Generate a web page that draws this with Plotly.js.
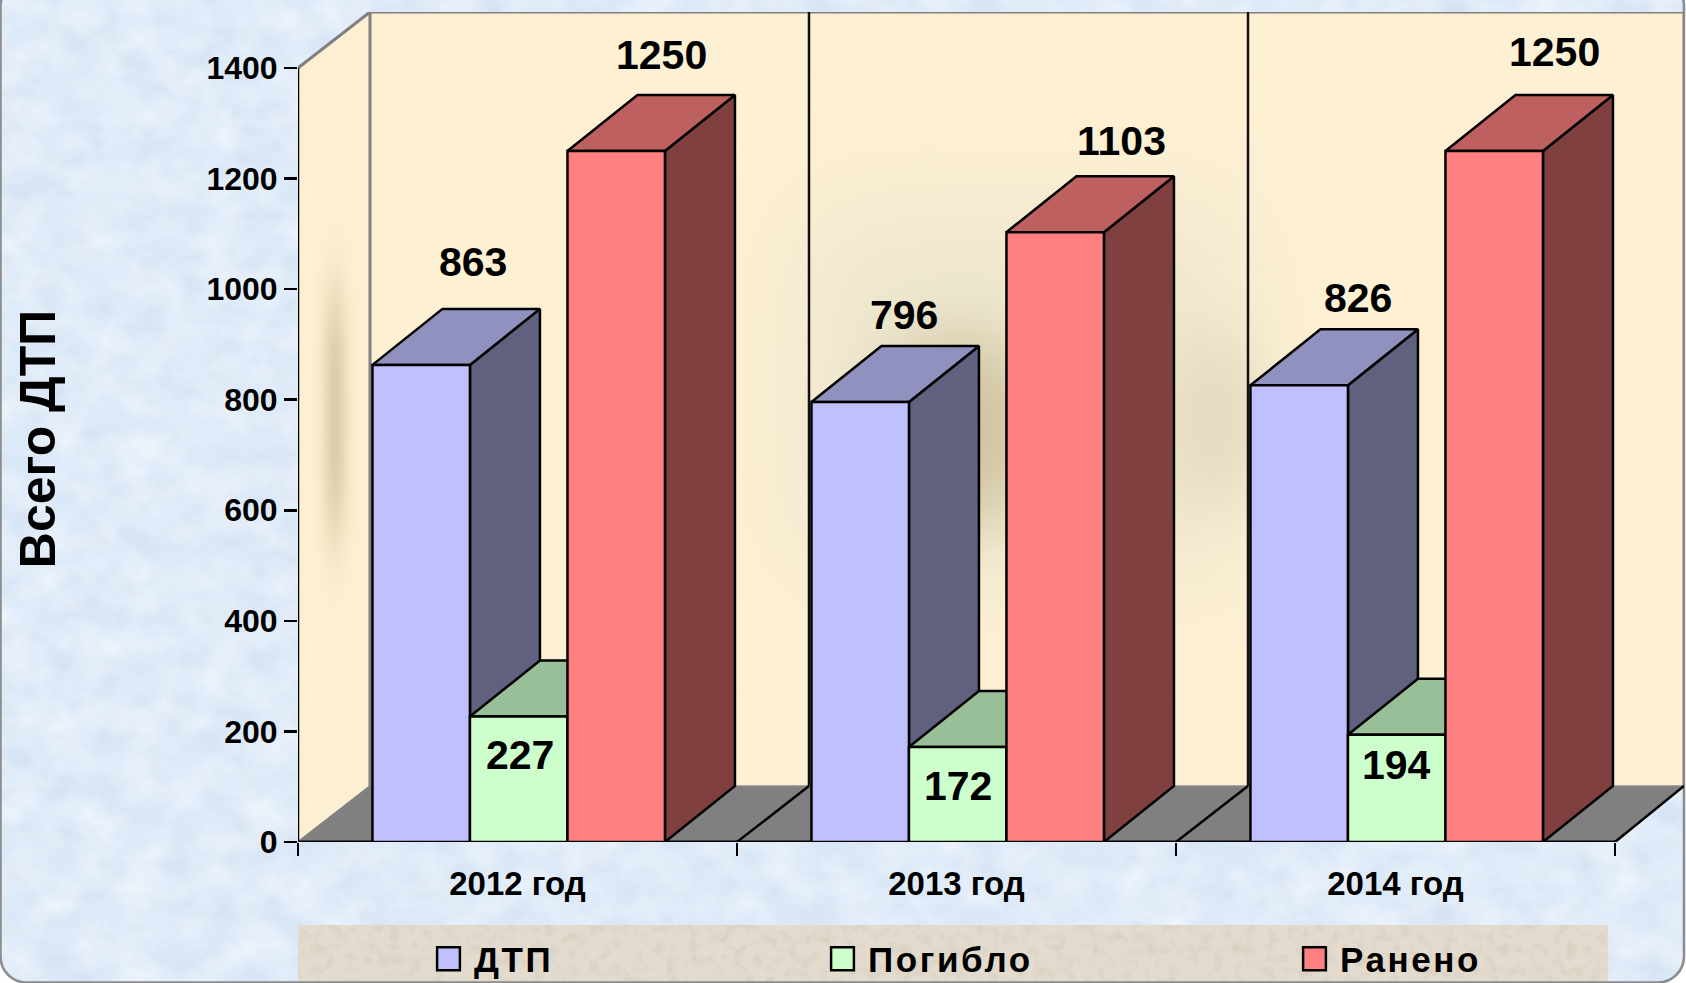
<!DOCTYPE html>
<html><head><meta charset="utf-8">
<script src="https://cdn.plot.ly/plotly-3.0.1.min.js"></script>
<style>
html,body{margin:0;padding:0;width:1686px;height:983px;overflow:hidden;background:#fff}
#bg{position:absolute;left:0;top:0;width:1686px;height:983px}
#chart{position:absolute;left:0;top:0;width:1686px;height:983px}
.legendtext{letter-spacing:2.6px}
.legendundefined{transform:translate(14.5px,0) scale(1.9);stroke-width:1.3px !important}
.g-ytitle{transform:translate(0,12px)}
</style></head><body>
<div id="bg"></div><div id="chart"></div>
<script>
const categories = ['2012 год', '2013 год', '2014 год'];
const seriesNames = ['ДТП', 'Погибло', 'Ранено'];
const dtp = [863, 796, 826];
const killed = [227, 172, 194];
const injured = [1250, 1103, 1250];
const yTicks = [0, 200, 400, 600, 800, 1000, 1200, 1400];

const series = [dtp, killed, injured];
const frontColors = ['#c0c0ff', '#ccffcc', '#ff8080'];
const sideColors = ['#60607f', '#79a079', '#804040'];
const topColors = ['#9191bf', '#99bf99', '#bf6060'];

// geometry of the pseudo-3D box, in axis units
const W = 1686, H = 983, L = 298, R = 1684, T = 12, B = 842;
const catPx = 439, pxPerUnit = 774 / 1400;
const depthX = 70 / catPx, wallX = 72 / catPx, depthY = 56 / pxPerUnit;
const barW = 97.5 / catPx, shift = 1.2 / catPx;
const xRange = [-0.5, (R - L) / catPx - 0.5], yRange = [0, 1400 + depthY];
const ink = '#000', grey = '#808080';

const traces = [];
function poly(xs, ys, fill, line, width) {
  traces.push({type: 'scatter', mode: 'lines', x: xs.concat(xs[0]), y: ys.concat(ys[0]),
    fill: 'toself', fillcolor: fill, line: {color: line, width: width}, hoverinfo: 'skip',
    showlegend: false, cliponaxis: false, xaxis: 'x', yaxis: 'y'});
}
function seg(xs, ys, color, width) {
  traces.push({type: 'scatter', mode: 'lines', x: xs, y: ys, line: {color: color, width: width},
    hoverinfo: 'skip', showlegend: false, cliponaxis: false, xaxis: 'x', yaxis: 'y'});
}
// floor
poly([xRange[0], 2.5, xRange[1], xRange[0] + wallX], [0, 0, depthY, depthY], grey, '#8c8c8c', 1.5);
// wall edges
seg([xRange[0], xRange[0] + wallX, xRange[1], xRange[1]], [1400, yRange[1], yRange[1], depthY], grey, 3);
seg([xRange[0] + wallX, xRange[0] + wallX], [depthY, yRange[1]], grey, 3);
seg([0.5 + wallX, 0.5 + wallX], [depthY, yRange[1]], '#111', 2.5);
seg([1.5 + wallX, 1.5 + wallX], [depthY, yRange[1]], '#111', 2.5);
// floor edges
seg([xRange[0], xRange[0] + wallX], [0, depthY], grey, 1.5);
seg([0.5, 0.5 + wallX], [0, depthY], ink, 2.5);
seg([1.5, 1.5 + wallX], [0, depthY], ink, 2.5);
seg([2.5, xRange[1]], [0, depthY], ink, 2.5);
// axis lines
seg([xRange[0], xRange[0]], [0, 1400], ink, 2.5);
seg([xRange[0], 2.5], [0, 0], ink, 3);

// side and top faces from the data
series.forEach((vals, s) => vals.forEach((v, c) => {
  const x0 = c + shift + (s - 1.5) * barW, x1 = x0 + barW;
  poly([x1, x1 + depthX, x1 + depthX, x1], [0, depthY, v + depthY, v], sideColors[s], ink, 2.5);
  poly([x0, x0 + depthX, x1 + depthX, x1], [v, v + depthY, v + depthY, v], topColors[s], ink, 2.5);
}));
// front faces
series.forEach((vals, s) => traces.push({
  type: 'bar', name: seriesNames[s], x: categories, y: vals, xaxis: 'x2', yaxis: 'y',
  width: barW, offset: shift + (s - 1.5) * barW,
  marker: {color: frontColors[s], line: {color: ink, width: 2.5}}, hoverinfo: 'x+y+name'
}));

// data labels: offset in px from the centre of the front face
const labelDX = [[52, 44, 59], [1, 0, 0], [45, 66, 60]];
const labelDY = [[103, 87, 87], [-38, -39, -30], [96, 91, 99]];
const annotations = [];
series.forEach((vals, s) => vals.forEach((v, c) => annotations.push({
  xref: 'x', yref: 'y', x: c + shift + (s - 1) * barW, y: v, text: String(v), showarrow: false,
  xanchor: 'center', yanchor: 'middle', xshift: labelDX[s][c], yshift: labelDY[s][c],
  font: {family: 'Liberation Sans', size: 41, weight: 700, color: '#000'}
})));
const xTickFont = {family: 'Liberation Sans', size: 33, weight: 700, color: '#000'};
const yTickFont = {family: 'Liberation Sans', size: 32, weight: 700, color: '#000'};

// backdrop: paper texture, walls with their soft shading, legend panel
const svg = `<svg xmlns="http://www.w3.org/2000/svg" width="${W}" height="${H}">
<defs>
<filter id="n" x="0" y="0" width="100%" height="100%"><feTurbulence type="fractalNoise" baseFrequency="0.025 0.03" numOctaves="5" seed="7"/>
<feColorMatrix values="0 0 0 0 1  0 0 0 0 1  0 0 0 0 1  0.9 0 0 0 -0.28"/></filter>
<filter id="m" x="0" y="0" width="100%" height="100%"><feTurbulence type="fractalNoise" baseFrequency="0.03 0.04" numOctaves="4" seed="3"/>
<feColorMatrix values="0 0 0 0 0.6  0 0 0 0 0.68  0 0 0 0 0.82  0 0.8 0 0 -0.3"/></filter>
<filter id="s" x="0" y="0" width="100%" height="100%"><feTurbulence type="fractalNoise" baseFrequency="0.09" numOctaves="3" seed="5"/>
<feColorMatrix values="0 0 0 0 0.6  0 0 0 0 0.54  0 0 0 0 0.44  0 0 1.1 0 -0.5"/></filter>
<filter id="b1" x="-300%" y="-60%" width="700%" height="220%"><feGaussianBlur stdDeviation="8 42"/></filter>
<filter id="b2" x="-100%" y="-100%" width="300%" height="300%"><feGaussianBlur stdDeviation="32"/></filter>
<filter id="b3" x="-50%" y="-50%" width="200%" height="200%"><feGaussianBlur stdDeviation="60"/></filter>
<clipPath id="cp"><rect x="0.5" y="-20" width="${R - 0.5}" height="${H + 19.5}" rx="26"/></clipPath>
<clipPath id="bw"><rect x="370" y="12" width="${R - 370}" height="774"/></clipPath>
<clipPath id="lw"><polygon points="${L},68 370,12 370,786 ${L},842"/></clipPath>
</defs>
<g clip-path="url(#cp)">
<rect width="${W}" height="${H}" fill="#dbe9f8"/>
<rect width="${W}" height="${H}" filter="url(#m)"/>
<rect width="${W}" height="${H}" filter="url(#n)"/>
<rect x="${L}" y="925" width="1310" height="60" fill="#e3dbce"/>
<rect x="${L}" y="925" width="1310" height="60" filter="url(#s)"/>
</g>
<rect x="0.5" y="-20" width="${R - 0.5}" height="${H + 19.5}" rx="26" fill="none" stroke="#8c8c8c" stroke-width="2.5"/>
<g clip-path="url(#lw)"><rect x="${L}" y="0" width="80" height="850" fill="#fdefd2"/>
<rect x="328" y="300" width="14" height="230" fill="#c9ba92" filter="url(#b1)"/></g>
<g clip-path="url(#bw)"><rect x="370" y="12" width="${R - 370}" height="774" fill="#fef0d3"/>
<rect x="800" y="210" width="440" height="360" fill="#ece6ce" filter="url(#b3)"/>
<ellipse cx="960" cy="430" rx="85" ry="95" fill="#d2c5a2" filter="url(#b2)"/>
<ellipse cx="1215" cy="420" rx="35" ry="90" fill="#e0d6bb" filter="url(#b2)"/>
</g></svg>`;
document.getElementById('bg').style.background =
  'url("data:image/svg+xml,' + encodeURIComponent(svg) + '") no-repeat 0 0';

const layout = {
  width: W, height: H, autosize: false,
  paper_bgcolor: 'rgba(0,0,0,0)', plot_bgcolor: 'rgba(0,0,0,0)',
  margin: {l: L, r: W - R, t: T, b: H - B, pad: 0},
  font: {family: 'Liberation Sans', color: '#000'},
  xaxis: {type: 'linear', range: xRange, visible: false, fixedrange: true},
  xaxis2: {type: 'category', overlaying: 'x', anchor: 'y', side: 'bottom', range: xRange,
    categoryorder: 'array', categoryarray: categories, tickson: 'boundaries',
    ticks: 'outside', ticklen: 13, tickwidth: 2.5, tickcolor: '#000', showline: false,
    showgrid: false, zeroline: false, tickfont: xTickFont, ticklabelstandoff: 19, fixedrange: true},
  yaxis: {range: yRange, tickmode: 'array', tickvals: yTicks, ticktext: yTicks.map(String),
    ticks: 'outside', ticklen: 13, tickwidth: 2.5, tickcolor: '#000', showline: false,
    showgrid: false, zeroline: false, tickfont: yTickFont, ticklabelstandoff: 0, fixedrange: true,
    title: {text: 'Всего ДТП', standoff: 134, font: {family: 'Liberation Sans', size: 50, weight: 700, color: '#000'}}},
  barmode: 'overlay',
  showlegend: true,
  legend: {orientation: 'h', xref: 'container', yref: 'container', x: 434 / W, xanchor: 'left', y: 1 - 959 / H, yanchor: 'middle',
    entrywidth: 349, entrywidthmode: 'pixels', bgcolor: 'rgba(0,0,0,0)', borderwidth: 0,
    traceorder: 'normal', font: {family: 'Liberation Sans', size: 35, weight: 700, color: '#000'}},
  annotations: annotations
};
const thirdEntryExtra = 78;
Plotly.newPlot('chart', traces, layout, {displayModeBar: false, staticPlot: true}).then(() => {
  const item = document.querySelectorAll('.legend .traces')[2];
  if (item) {
    const m = /translate\(([-\d.]+)[ ,]*([-\d.]*)\)/.exec(item.getAttribute('transform') || '');
    if (m) item.setAttribute('transform', `translate(${+m[1] + thirdEntryExtra},${+m[2] || 0})`);
  }
});
</script></body></html>
